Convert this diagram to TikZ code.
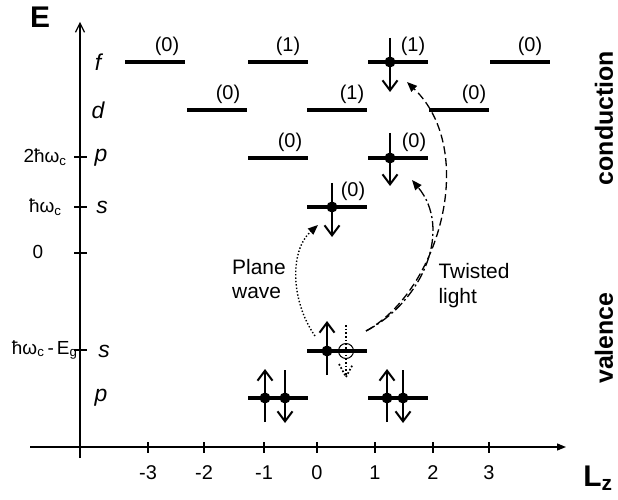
\documentclass[tikz,border=0pt]{standalone}
\usepackage{fontspec}
\setmainfont{Liberation Sans}
\usetikzlibrary{arrows.meta,calc,positioning}
\tikzset{
  axis/.style={line width=1.3bp, draw=black},
  level/.style={rectangle, fill=black, minimum width=60bp,
    minimum height=4.5bp, inner sep=0pt},
  electron/.style={circle, fill=black, minimum size=11bp, inner sep=0pt},
  hole/.style={circle, draw=black, line width=1bp, minimum size=15bp,
    inner sep=0pt},
  spin/.style={line width=2.4bp,
    -{Straight Barb[length=10bp,width=15bp,line width=2bp]}},
  occ/.style={font=\fontsize{20}{23}\selectfont},
  orbital/.style={font=\fontsize{23}{26}\selectfont\itshape},
  energy label/.style={font=\fontsize{19}{22}\selectfont},
  tick label/.style={font=\fontsize{20}{23}\selectfont},
  axis title/.style={font=\fontsize{30}{34}\selectfont\bfseries},
  band label/.style={font=\fontsize{25}{28}\selectfont\bfseries, rotate=90},
  note/.style={font=\fontsize{21}{25}\selectfont, align=left},
  plane arc/.style={dotted, line width=1.4bp,
    -{Triangle[length=10bp,width=8bp]}},
  twist arc/.style={line width=1.3bp,
    dash pattern=on 10bp off 3bp on 2bp off 3bp,
    -{Triangle[length=10bp,width=8bp]}},
  twist f arc/.style={line width=1.3bp, dash pattern=on 8bp off 4bp,
    -{Triangle[length=10bp,width=8bp]}}
}
\begin{document}
\begin{tikzpicture}[x=1bp, y=-1bp]
  \useasboundingbox (0,0) rectangle (618,500);
  % axes
  \coordinate (yBot) at (80,458);
  \coordinate (yTop) at (80,22);
  \coordinate (xLeft) at (30,447);
  \coordinate (xRight) at (566,447);
  \draw[axis, -{Straight Barb[length=9bp,width=9bp,line width=1.2bp]}] (yBot) -- (yTop);
  \draw[axis, -{Triangle[length=9bp,width=7bp]}] (xLeft) -- (xRight);
  \foreach \y in {157,207,253,350} \draw[axis] (74,\y) -- (87,\y);
  \foreach \x/\l [count=\i] in {148/-3,204/-2,264/-1,317/0,375/1,433/2,489/3} {
    \draw[axis] (\x,442) -- (\x,453);
    \node[tick label] (xt\i) at (\x,473) {\l};
  }
  \node[axis title] (E) at (40,17) {E};
  \node[axis title] (Lz) at (598,478) {L\textsubscript{z}};
  \node[energy label, anchor=east] (e2hw) at (70,157) {2ħω\textsubscript{c}};
  \node[energy label, anchor=east] (ehw) at (65,207) {ħω\textsubscript{c}};
  \node[energy label] (ezero) at (38,252) {0};
  \node[energy label, anchor=east] (egap) at (81,350)
    {ħω\textsubscript{c}\,-\,E\textsubscript{g}};
  \node[orbital] (of) at (98,62) {f};
  \node[orbital] (od) at (98,110) {d};
  \node[orbital] (op) at (101,158) {p};
  \node[orbital] (os) at (102,207) {s};
  \node[orbital] (ovs) at (104,351) {s};
  \node[orbital] (ovp) at (101,398) {p};
  \node[band label] (cond) at (604,118) {conduction};
  \node[band label] (val) at (604,338) {valence};
  % conduction levels
  \node[level, label={[occ,xshift=12bp]above:(0)}] (fm3) at (155,62) {};
  \node[level, label={[occ,xshift=10bp]above:(1)}] (fm1) at (278,62) {};
  \node[level, label={[occ,xshift=15bp]above:(1)}] (fp1) at (398,62) {};
  \node[level, label={[occ,xshift=10bp]above:(0)}] (fp3) at (520,62) {};
  \node[level, label={[occ,xshift=11bp]above:(0)}] (dm2) at (217,110) {};
  \node[level, label={[occ,xshift=15bp]above:(1)}] (d0) at (337,110) {};
  \node[level, label={[occ,xshift=15bp]above:(0)}] (dp2) at (459,110) {};
  \node[level, label={[occ,xshift=12bp]above:(0)}] (pm1) at (278,158) {};
  \node[level, label={[occ,xshift=16bp]above:(0)}] (pp1) at (398,158) {};
  \node[level, label={[occ,xshift=16bp]above:(0)}] (s0) at (337,207) {};
  % valence levels
  \node[level] (vs0) at (337,351) {};
  \node[level] (vpm1) at (278,398) {};
  \node[level] (vpp1) at (398,398) {};
  % electrons
  \node[electron] (eF) at (390,62) {};
  \node[electron] (eP) at (390,158) {};
  \node[electron] (eS) at (332,207) {};
  \node[electron] (eVs) at (327,351) {};
  \node[hole] (hVs) at (346,351) {};
  \node[electron] (eVpA) at (265,398) {};
  \node[electron] (eVpB) at (285,398) {};
  \node[electron] (eVpC) at (387,398) {};
  \node[electron] (eVpD) at (403,398) {};
  \draw[spin] ($(eF)+(0,-24)$) -- ($(eF)+(0,30)$);
  \draw[spin] ($(eP)+(0,-25)$) -- ($(eP)+(0,28)$);
  \draw[spin] ($(eS)+(0,-24)$) -- ($(eS)+(0,30)$);
  \draw[spin] ($(eVs)+(0,24)$) -- ($(eVs)+(0,-30)$);
  \draw[spin] ($(eVpA)+(0,24)$) -- ($(eVpA)+(0,-29)$);
  \draw[spin] ($(eVpB)+(0,-28)$) -- ($(eVpB)+(0,25)$);
  \draw[spin] ($(eVpC)+(0,24)$) -- ($(eVpC)+(0,-29)$);
  \draw[spin] ($(eVpD)+(0,-28)$) -- ($(eVpD)+(0,25)$);
  \draw[dotted, line width=1.7bp] ($(hVs)+(0,-26)$) -- ($(hVs)+(0,25)$);
  \draw[dotted, line width=1.7bp] ($(hVs)+(-7,13)$) -- ($(hVs)+(0,26)$) -- ($(hVs)+(7,13)$);
  % excitations
  \coordinate (pwStart) at ($(eVs)+(-12,-15)$);
  \coordinate (pwEnd) at ($(eS)+(-14,18)$);
  \coordinate (twStart) at ($(hVs)+(20,-20)$);
  \coordinate (twEnd) at ($(eP)+(22,22)$);
  \coordinate (tfEnd) at ($(eF)+(17,20)$);
  \draw[plane arc] (pwStart) .. controls (290,300) and (290,250) .. (pwEnd);
  \draw[twist arc] (twStart) .. controls (425,300) and (452,228) .. (twEnd);
  \draw[twist f arc] (twStart) .. controls (440,290) and (478,150) .. (tfEnd);
  \node[note] (plane) at (259,279) {Plane\\wave};
  \node[note] (twisted) at (474,286) {Twisted\\light};
\end{tikzpicture}
\end{document}
